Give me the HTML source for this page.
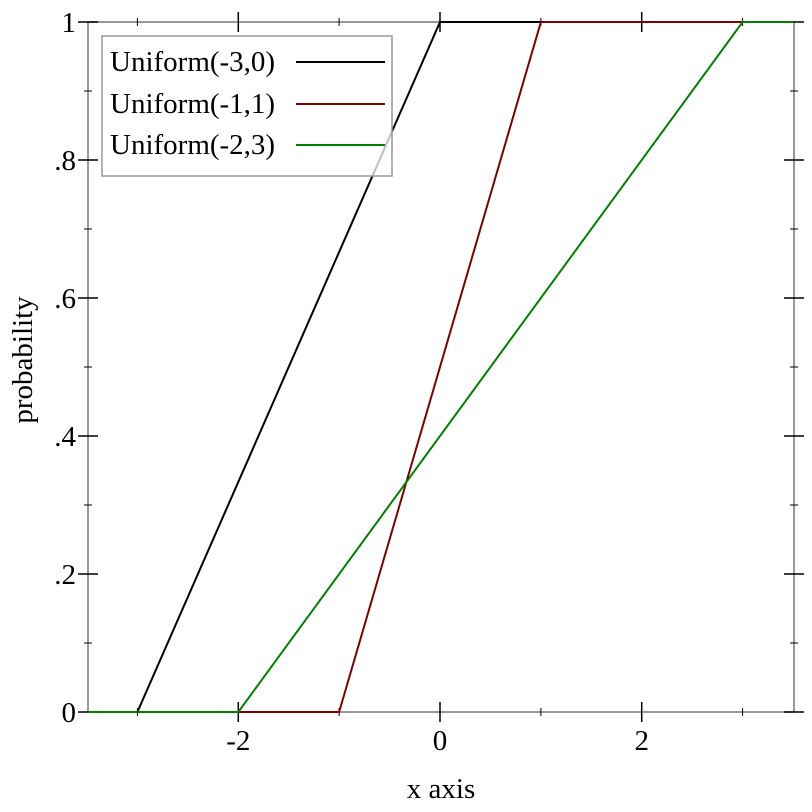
<!DOCTYPE html>
<html><head><style>body{margin:0;background:#fff}svg{display:block}</style></head><body>
<svg width="812" height="812" xmlns="http://www.w3.org/2000/svg" font-family="Liberation Serif, serif" font-size="29">
<g stroke="#777" stroke-width="1.5" fill="none">
<rect x="88" y="22" width="706" height="690"/>
</g>
<g stroke="#000" stroke-width="1.5">
<line x1="238.3" y1="12" x2="238.3" y2="32"/><line x1="440" y1="12" x2="440" y2="32"/><line x1="641.7" y1="12" x2="641.7" y2="32"/>
<line x1="238.3" y1="702" x2="238.3" y2="722"/><line x1="440" y1="702" x2="440" y2="722"/><line x1="641.7" y1="702" x2="641.7" y2="722"/>
</g>
<g stroke="#000" stroke-width="1">
<line x1="137.4" y1="18" x2="137.4" y2="26"/><line x1="339.1" y1="18" x2="339.1" y2="26"/><line x1="540.9" y1="18" x2="540.9" y2="26"/><line x1="742.6" y1="18" x2="742.6" y2="26"/>
<line x1="137.4" y1="708" x2="137.4" y2="716"/><line x1="339.1" y1="708" x2="339.1" y2="716"/><line x1="540.9" y1="708" x2="540.9" y2="716"/><line x1="742.6" y1="708" x2="742.6" y2="716"/>
<line x1="84" y1="643" x2="92" y2="643"/><line x1="84" y1="505" x2="92" y2="505"/><line x1="84" y1="367" x2="92" y2="367"/><line x1="84" y1="229" x2="92" y2="229"/><line x1="84" y1="91" x2="92" y2="91"/>
<line x1="790" y1="643" x2="798" y2="643"/><line x1="790" y1="505" x2="798" y2="505"/><line x1="790" y1="367" x2="798" y2="367"/><line x1="790" y1="229" x2="798" y2="229"/><line x1="790" y1="91" x2="798" y2="91"/>
</g>
<g stroke="#000" stroke-width="1.5">
<line x1="78" y1="712" x2="98" y2="712"/><line x1="78" y1="574" x2="98" y2="574"/><line x1="78" y1="436" x2="98" y2="436"/><line x1="78" y1="298" x2="98" y2="298"/><line x1="78" y1="160" x2="98" y2="160"/><line x1="78" y1="22" x2="98" y2="22"/>
<line x1="784" y1="712" x2="804" y2="712"/><line x1="784" y1="574" x2="804" y2="574"/><line x1="784" y1="436" x2="804" y2="436"/><line x1="784" y1="298" x2="804" y2="298"/><line x1="784" y1="160" x2="804" y2="160"/><line x1="784" y1="22" x2="804" y2="22"/>
</g>
<g fill="none" stroke-width="2">
<polyline stroke="#000" points="88,712 137.4,712 440,22 794,22"/>
<polyline stroke="#800000" points="88,712 339.1,712 540.9,22 794,22"/>
<polyline stroke="#008000" points="88,712 238.3,712 742.6,22 794,22"/>
</g>
<rect x="102" y="36" width="290" height="140" fill="#fff" fill-opacity="0.75" stroke="#999" stroke-width="1.5"/>
<g fill="#000">
<text x="110" y="71">Uniform(-3,0)</text>
<text x="110" y="113">Uniform(-1,1)</text>
<text x="110" y="154">Uniform(-2,3)</text>
</g>
<g stroke-width="2">
<line x1="296" y1="62" x2="385" y2="62" stroke="#000"/>
<line x1="296" y1="104" x2="385" y2="104" stroke="#800000"/>
<line x1="296" y1="145" x2="385" y2="145" stroke="#008000"/>
</g>
<g text-anchor="end">
<text x="76" y="722">0</text><text x="76" y="584">.2</text><text x="76" y="446">.4</text><text x="76" y="308">.6</text><text x="76" y="170">.8</text><text x="76" y="32">1</text>
</g>
<g text-anchor="middle">
<text x="238.3" y="750">-2</text><text x="440" y="750">0</text><text x="641.7" y="750">2</text>
<text x="441" y="798">x axis</text>
<text transform="translate(32,360) rotate(-90)">probability</text>
</g>
</svg>
</body></html>
